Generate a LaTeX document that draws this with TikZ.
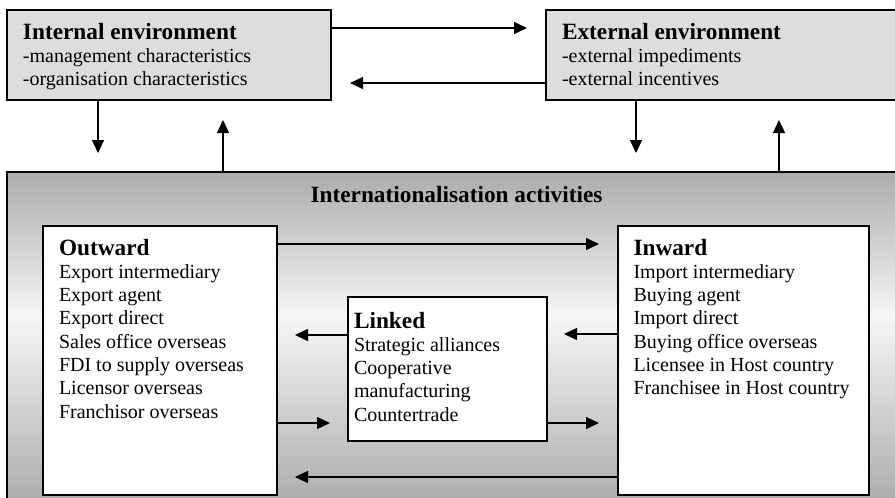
\documentclass[tikz,border=0pt]{standalone}
\usepackage{fontspec}
\setmainfont{Liberation Serif}
\usetikzlibrary{arrows.meta}
\definecolor{envfill}{RGB}{221,221,221}
\definecolor{shadeg}{RGB}{172,172,172}
\definecolor{shadew}{RGB}{246,246,246}
\pgfdeclareverticalshading{bigshade}{100bp}{color(0bp)=(shadeg); color(25bp)=(shadeg); color(53bp)=(shadew); color(75bp)=(shadeg); color(100bp)=(shadeg)}
\newcommand{\boxhead}[1]{{\fontsize{23.3}{23.3}\selectfont\bfseries\rule{0pt}{17pt}#1}}
\begin{document}
\begin{tikzpicture}[x=1pt,y=-1pt,
  box/.style={draw=black, line width=1.3pt, inner sep=0pt, outer sep=0pt},
  envbox/.style={box, fill=envfill},
  whitebox/.style={box, fill=white},
  txt/.style={anchor=north west, inner sep=0pt, outer sep=0pt, align=left, font=\fontsize{20}{23.3}\selectfont},
  arr/.style={line width=1.3pt, -{Triangle[length=13pt,width=12pt]}},
]
\useasboundingbox (0,0) rectangle (895,498);

% big container
\node[box, shade, shading=bigshade, minimum width=903pt, minimum height=330pt] (activities) at (458.5,337) {};
\node[font=\fontsize{23.3}{23.3}\selectfont\bfseries, anchor=base, inner sep=0pt] (acttitle) at (456.5,202) {Internationalisation activities};

% environment boxes
\node[envbox, minimum width=324pt, minimum height=90pt] (internal) at (169,55) {};
\node[txt] (internaltxt) at (23,22) {\boxhead{Internal environment}\\-management characteristics\\-organisation characteristics};

\node[envbox, minimum width=359pt, minimum height=90pt] (external) at (725.5,55) {};
\node[txt] (externaltxt) at (562,22) {\boxhead{External environment}\\-external impediments\\-external incentives};

% inner boxes
\node[whitebox, minimum width=234pt, minimum height=269pt] (outward) at (160,360.5) {};
\node[txt] (outwardtxt) at (59,238) {\boxhead{Outward}\\Export intermediary\\Export agent\\Export direct\\Sales office overseas\\FDI to supply overseas\\Licensor overseas\\Franchisor overseas};

\node[whitebox, minimum width=251pt, minimum height=269pt] (inward) at (743.5,360.5) {};
\node[txt] (inwardtxt) at (633.5,238) {\boxhead{Inward}\\Import intermediary\\Buying agent\\Import direct\\Buying office overseas\\Licensee in Host country\\Franchisee in Host country};

\node[whitebox, minimum width=199pt, minimum height=144pt] (linked) at (447.5,369) {};
\node[txt] (linkedtxt) at (354,311) {\boxhead{Linked}\\Strategic alliances\\Cooperative\\manufacturing\\Countertrade};

% arrows between environments
\draw[arr, shorten >=19pt] (internal.east |- 0,28) -- (external.west |- 0,28);
\draw[arr, shorten >=19pt] (external.west |- 0,83) -- (internal.east |- 0,83);

% vertical arrows
\draw[arr, shorten >=19pt] (internal.south -| 98,0) -- (activities.north -| 98,0);
\draw[arr, shorten >=20pt] (activities.north -| 223,0) -- (internal.south -| 223,0);
\draw[arr, shorten >=19pt] (external.south -| 636,0) -- (activities.north -| 636,0);
\draw[arr, shorten >=20pt] (activities.north -| 779,0) -- (external.south -| 779,0);

% inner arrows
\draw[arr, shorten >=19pt] (outward.east |- 0,244) -- (inward.west |- 0,244);
\draw[arr, shorten >=18pt] (linked.west |- 0,335) -- (outward.east |- 0,335);
\draw[arr, shorten >=17pt] (inward.west |- 0,334) -- (linked.east |- 0,334);
\draw[arr, shorten >=18pt] (outward.east |- 0,423) -- (linked.west |- 0,423);
\draw[arr, shorten >=19pt] (linked.east |- 0,423) -- (inward.west |- 0,423);
\draw[arr, shorten >=18pt] (inward.west |- 0,477) -- (outward.east |- 0,477);
\end{tikzpicture}
\end{document}
